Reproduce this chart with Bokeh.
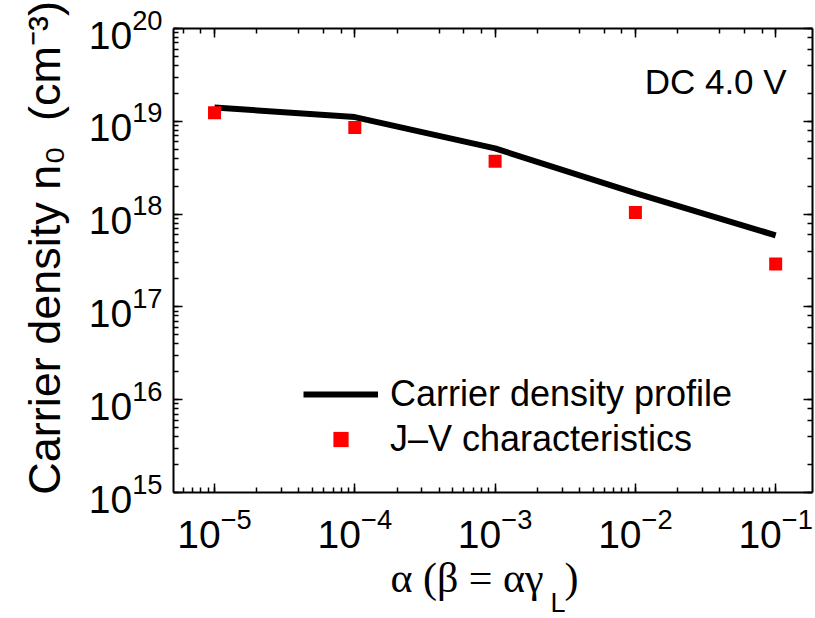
from bokeh.plotting import figure
from bokeh.models import LogAxis, Label, Legend, LegendItem, Title
from bokeh.embed import file_html
from bokeh.resources import INLINE

# ---- data ----
alpha = [1e-5, 1e-4, 1e-3, 1e-2, 1e-1]
n0_profile = [1.41e19, 1.11e19, 5.1e18, 1.68e18, 5.9e17]
n0_jv = [1.24e19, 8.6e18, 3.7e18, 1.04e18, 2.9e17]

FONT = "Liberation Sans"
SERIF = "Liberation Serif"

p = figure(width=815, height=618, x_axis_type="log", y_axis_type="log",
           x_range=(5.1e-6, 0.183), y_range=(1e15, 1e20),
           output_backend="svg", toolbar_location=None,
           min_border_left=173, min_border_top=28, min_border_right=3,
           min_border_bottom=126)
p.grid.visible = False
p.outline_line_color = None
p.background_fill_color = "white"
p.border_fill_color = "white"

line = p.line(alpha, n0_profile, line_color="black", line_width=6)
sq = p.scatter(alpha, n0_jv, marker="square", size=13, fill_color="#ff0000",
               line_color=None)

def style(ax, labels=True):
    ax.axis_line_width = 2
    ax.axis_line_color = "black"
    ax.major_tick_in = 9
    ax.major_tick_out = 0
    ax.minor_tick_in = 5
    ax.minor_tick_out = 0
    ax.major_tick_line_width = 1.5
    ax.minor_tick_line_width = 1.5
    ax.major_tick_line_color = "black"
    ax.minor_tick_line_color = "black"
    if labels:
        ax.major_label_text_font = FONT
        ax.major_label_text_font_size = "39px"
        ax.major_label_text_color = "black"
    else:
        ax.major_label_text_font_size = "1px"
        ax.major_label_text_color = None
        ax.major_label_standoff = 0

for ax in p.xaxis + p.yaxis:
    style(ax)

p.yaxis.major_label_standoff = 11
p.xaxis.major_label_standoff = 15
p.yaxis.axis_label = "\u00a0\u00a0Carrier density n\u2080\u00a0\u00a0(cm\u207b\u00b3)"
p.yaxis.axis_label_text_font = FONT
p.yaxis.axis_label_text_font_size = "45px"
p.yaxis.axis_label_text_font_style = "normal"
p.yaxis.axis_label_text_color = "black"
p.yaxis.axis_label_standoff = 16

top = LogAxis()
style(top, labels=False)
p.add_layout(top, "above")
right = LogAxis()
style(right, labels=False)
p.add_layout(right, "right")

legend = Legend(items=[
    LegendItem(label="Carrier density profile", renderers=[line]),
    LegendItem(label="J\u2013V characteristics", renderers=[sq]),
], location=(130, 32))
legend.border_line_color = None
legend.background_fill_alpha = 0
legend.padding = 0
legend.margin = 0
legend.spacing = 3
legend.glyph_width = 75
legend.glyph_height = 38
legend.label_height = 38
legend.label_standoff = 12
legend.label_text_font = FONT
legend.label_text_font_size = "36px"
legend.label_text_color = "black"
p.add_layout(legend)

p.add_layout(Label(x=0.1197, y=2.69e19, text="DC 4.0 V", text_align="right",
                   text_baseline="alphabetic", text_font=FONT,
                   text_font_size="35px", text_color="black"))

# x-axis title as two title rows (main text + subscript L)
t_main = Title(text="\u03b1 (\u03b2 = \u03b1\u03b3\u00a0\u00a0)", align="left",
               offset=217, vertical_align="top", standoff=8,
               text_font=SERIF, text_font_size="42px",
               text_font_style="normal", text_color="black")
t_sub = Title(text="L", align="left", offset=377, vertical_align="top",
              standoff=-37, text_font=FONT, text_font_size="27px",
              text_font_style="normal", text_color="black")
p.add_layout(t_main, "below")
p.add_layout(t_sub, "below")

open("out.html", "w").write(file_html(p, INLINE))
